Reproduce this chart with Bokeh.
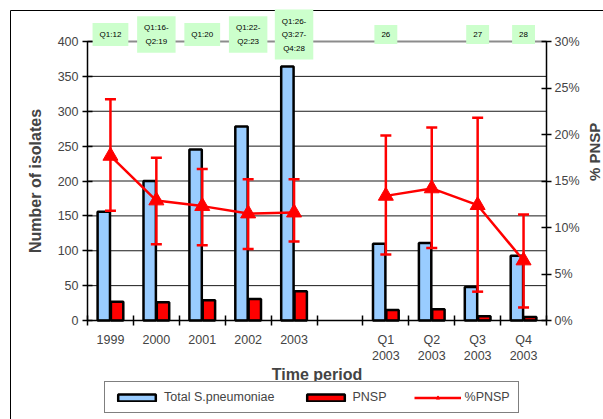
import math
from bokeh.plotting import figure
from bokeh.models import (Range1d, LinearAxis, FixedTicker, PrintfTickFormatter,
                          Legend, LegendItem, Whisker, TeeHead, ColumnDataSource)
from bokeh.core.properties import value
from bokeh.embed import file_html
from bokeh.resources import INLINE

# ---- data ----
categories = ["1999", "2000", "2001", "2002", "2003", "",
              "Q1\n2003", "Q2\n2003", "Q3\n2003", "Q4\n2003"]
total_isolates = [156, 200, 245, 278, 364, None, 110, 111, 48, 93]
pnsp_isolates = [27, 26, 29, 31, 42, None, 15, 16, 6, 5]
pct_pnsp = [17.7, 12.9, 12.3, 11.5, 11.6, None, 13.4, 14.2, 12.4, 6.45]
pct_upper = [23.8, 17.5, 16.3, 15.2, 15.2, None, 19.9, 20.75, 21.8, 11.4]
pct_lower = [11.8, 8.2, 8.1, 7.7, 8.5, None, 7.1, 7.8, 3.1, 1.4]
top_labels = ["Q1:12", "Q1:16-\nQ2:19", "Q1:20", "Q1:22-\nQ2:23",
              "Q1:26-\nQ3:27-\nQ4:28", "", "26", "", "27", "28"]
count_ticks = [0, 50, 100, 150, 200, 250, 300, 350, 400]
pct_ticks = [0, 5, 10, 15, 20, 25, 30]

FONT = "Liberation Sans"
n = len(categories)
centers = [i + 0.5 for i in range(n)]
bounds_x = [float(i) for i in range(n + 1)]
valid = [i for i in range(n) if total_isolates[i] is not None]

# ---- layout (pixels) ----
W, H = 603, 419
PL, PR = 87, 546          # plot-area left / right
PB, PT = 320, 41          # pixel rows of y=0 and y=400
sx = (PR - PL) / n        # px per category slot
sy = (PB - PT) / count_ticks[-1]
sp = (PB - PT) / pct_ticks[-1]

x_range = Range1d(-PL / sx, (W - PL) / sx)
y_range = Range1d(-(H - PB) / sy, PB / sy)

p = figure(width=W, height=H, output_backend="svg", toolbar_location=None,
           x_range=x_range, y_range=y_range,
           min_border_left=0, min_border_right=0, min_border_top=0,
           min_border_bottom=0)
p.extra_y_ranges = {"pct": Range1d(-(H - PB) / sp, PB / sp)}
p.outline_line_color = None
p.background_fill_color = "white"
p.border_fill_color = "white"
p.xgrid.visible = False
p.ygrid.visible = False

# outer chart border (left and top edges)
bx = (10 - PL) / sx
by = (PB - 10) / sy
p.segment(x0=[bx, bx], y0=[by, by], x1=[x_range.end, bx], y1=[by, y_range.start],
          line_color="black", line_width=1)

# horizontal gridlines
gl = count_ticks[1:-1]
p.segment(x0=[0] * len(gl), x1=[n] * len(gl), y0=gl, y1=gl,
          line_color="#1a1a1a", line_width=1)
# top gray line at 400
p.segment(x0=[0], x1=[n], y0=[count_ticks[-1]], y1=[count_ticks[-1]],
          line_color="#8c8c8c", line_width=2)

# bars
bar_src = ColumnDataSource(dict(
    xb=[centers[i] - 0.145 for i in valid],
    xr=[centers[i] + 0.145 for i in valid],
    total=[total_isolates[i] for i in valid],
    pnsp=[pnsp_isolates[i] for i in valid],
))
r_blue = p.vbar(x="xb", top="total", width=0.27, source=bar_src,
                fill_color="#99CCFF", line_color="black", line_width=2.5)
r_red = p.vbar(x="xr", top="pnsp", width=0.27, source=bar_src,
               fill_color="#FF0000", line_color="black", line_width=2.5)

# green annotation boxes
lab_idx = [i for i in range(n) if top_labels[i]]
p.text(x=[centers[i] for i in lab_idx], y=[410] * len(lab_idx),
       text=[top_labels[i] for i in lab_idx],
       text_font=value(FONT), text_font_size="8px", text_color="black",
       text_align="center", text_baseline="middle", text_line_height=1.5,
       background_fill_color="#CCFFCC", padding=7)

# percent line
pct_line = [float("nan") if v is None else v for v in pct_pnsp]
r_line = p.line(centers, pct_line, y_range_name="pct",
                line_color="red", line_width=2.5)
r_tri = p.scatter([centers[i] for i in valid], [pct_pnsp[i] for i in valid],
                  y_range_name="pct", marker="triangle", size=15,
                  fill_color="red", line_color="red")

err_src = ColumnDataSource(dict(
    base=[centers[i] for i in valid],
    upper=[pct_upper[i] for i in valid],
    lower=[pct_lower[i] for i in valid],
))
wh = Whisker(base="base", upper="upper", lower="lower", source=err_src,
             dimension="height", y_range_name="pct", level="overlay",
             line_color="red", line_width=2.5,
             upper_head=TeeHead(size=11, line_color="red", line_width=2.5),
             lower_head=TeeHead(size=11, line_color="red", line_width=2.5))
p.add_layout(wh)

# left axis
ya = p.yaxis[0]
ya.fixed_location = 0
ya.ticker = FixedTicker(ticks=count_ticks)
ya.bounds = (0, count_ticks[-1])
ya.axis_label = "Number of isolates"
ya.axis_label_text_font = FONT
ya.axis_label_text_font_style = "bold"
ya.axis_label_text_font_size = "16px"
ya.axis_label_standoff = 11
ya.major_label_text_font = FONT
ya.major_label_text_font_size = "12.5px"
ya.major_label_standoff = 4
ya.major_tick_in = 5
ya.major_tick_out = 5
ya.minor_tick_in = 0
ya.minor_tick_out = 0
ya.axis_line_width = 1.5
ya.major_tick_line_width = 1.5

# bottom axis
xa = p.xaxis[0]
xa.fixed_location = 0
xa.ticker = FixedTicker(ticks=centers, minor_ticks=bounds_x)
xa.major_label_overrides = {c: lab for c, lab in zip(centers, categories)}
xa.bounds = (0, n)
xa.major_tick_in = 0
xa.major_tick_out = 0
xa.minor_tick_in = 5
xa.minor_tick_out = 5
xa.minor_tick_line_color = "black"
xa.minor_tick_line_width = 1.5
xa.axis_line_width = 1.5
xa.major_label_text_font = FONT
xa.major_label_text_font_size = "12.5px"
xa.major_label_standoff = 7
xa.axis_label = "Time period"
xa.axis_label_text_font = FONT
xa.axis_label_text_font_style = "bold"
xa.axis_label_text_font_size = "16px"
xa.axis_label_standoff = 0

# right axis
ra = LinearAxis(y_range_name="pct", ticker=FixedTicker(ticks=pct_ticks),
                formatter=PrintfTickFormatter(format="%d%%"),
                bounds=(0, pct_ticks[-1]), fixed_location=n)
ra.major_label_text_font = FONT
ra.major_label_text_font_size = "12.5px"
ra.major_label_standoff = 3
ra.major_tick_in = 5
ra.major_tick_out = 5
ra.minor_tick_in = 0
ra.minor_tick_out = 0
ra.axis_line_width = 1.5
ra.major_tick_line_width = 1.5
right_title = "% PNSP"
if "axis_label_orientation" in ra.properties():
    ra.axis_label = right_title
    ra.axis_label_text_font = FONT
    ra.axis_label_text_font_style = "bold"
    ra.axis_label_text_font_size = "15px"
    ra.axis_label_standoff = 12
    ra.axis_label_orientation = math.pi / 2
else:
    p.text(x=[(596 - PL) / sx], y=[(PB - 181) / sy], text=[right_title],
           angle=math.pi / 2, text_align="center", text_baseline="middle",
           text_font=value(FONT), text_font_style="bold",
           text_font_size="15px")
p.add_layout(ra, "right")

# legend (inside the full-canvas frame, below the axis)
legend = Legend(items=[
    LegendItem(label="Total S.pneumoniae", renderers=[r_blue]),
    LegendItem(label="PNSP", renderers=[r_red]),
    LegendItem(label="%PNSP", renderers=[r_line, r_tri]),
], orientation="horizontal", location=(104, H - 413),
    border_line_color="black", border_line_width=1,
    background_fill_color="white", background_fill_alpha=1,
    glyph_width=47, glyph_height=9, label_standoff=4, spacing=27,
    padding=8, margin=0, label_height=11,
    label_text_font=FONT, label_text_font_size="12.5px")
p.add_layout(legend, "center")

open("out.html", "w").write(file_html(p, INLINE))
